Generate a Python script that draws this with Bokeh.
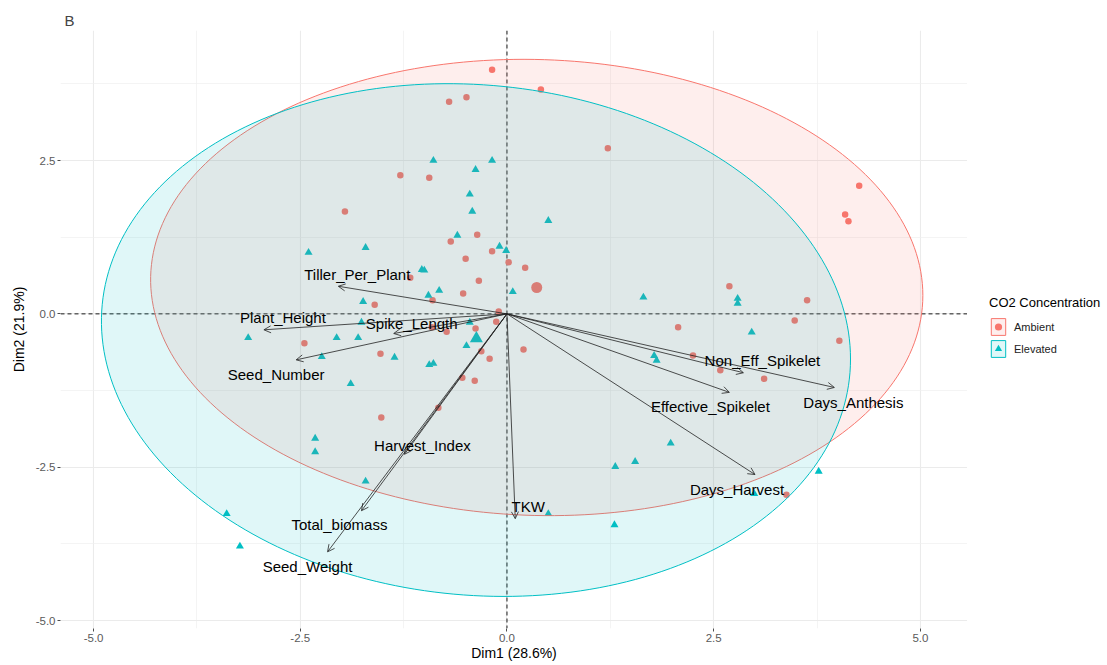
import numpy as np
from bokeh.plotting import figure
from bokeh.layouts import row
from bokeh.models import (ColumnDataSource, Span, Arrow, OpenHead, FixedTicker,
                          PrintfTickFormatter, Legend, LegendItem, Range1d)
from bokeh.core.properties import value
from bokeh.embed import file_html
from bokeh.resources import INLINE

# ---------------- data ----------------
groups = ["Ambient", "Elevated"]

amb_x = [-0.18, 0.41, -0.70, -0.49, 1.22, -1.29, -0.94, -1.96, 4.26, 4.09, 4.13,
         -0.36, -0.68, -0.18, -0.50, 0.02, 0.22, -1.17, -0.34, 2.69, -0.53, -0.90,
         -1.60, 3.63, -0.10, 3.48, -0.13, -0.38, -0.73, -0.91, 2.07, 4.02, -2.45,
         0.20, -1.53, -0.31, -0.21, 2.25, 2.58, 3.11, -0.54, -0.39, -0.83, -1.52, 3.38]
amb_y = [3.98, 3.66, 3.46, 3.53, 2.70, 2.26, 2.22, 1.67, 2.09, 1.62, 1.51,
         1.29, 1.18, 1.02, 0.90, 0.84, 0.75, 0.59, 0.54, 0.45, 0.33, 0.22,
         0.15, 0.22, 0.04, -0.11, -0.13, -0.24, -0.29, -0.22, -0.22, -0.44, -0.48,
         -0.58, -0.65, -0.61, -0.73, -0.68, -0.92, -1.06, -1.04, -1.09, -1.53, -1.69, -2.95]

elev_x = [-0.89, -0.18, -0.38, -0.45, -0.42, 0.50, -0.60, -0.09, -0.01, -1.03, -1.00,
          -0.82, -0.95, 0.07, 1.65, 2.79, 2.79, -0.45, -2.40, -1.71, -1.74, -1.76,
          -3.13, -2.06, -1.80, -2.24, -1.36, -1.89, -0.94, -0.89, -0.49, -2.32, -2.32,
          -1.71, -3.39, -3.23, 1.78, 1.81, 1.98, 1.31, 1.55, 0.50, 1.30, 2.96, 3.77, 2.99]
elev_y = [2.50, 2.50, 2.35, 1.95, 1.67, 1.52, 1.28, 1.10, 1.03, 0.72, 0.71,
          0.38, 0.30, 0.36, 0.27, 0.25, 0.17, -0.14, 1.00, 1.08, 0.20, -0.14,
          -0.39, -0.39, -0.39, -0.70, -0.71, -1.14, -0.83, -0.81, -0.52, -2.03, -2.25,
          -2.73, -3.26, -3.79, -0.68, -0.76, -2.11, -2.49, -2.41, -3.26, -3.44, -0.30, -2.57, -2.93]

# group centroids
mean_x = [0.36, -0.37]
mean_y = [0.43, -0.40]

# 95% ellipses: centre, half extent along x / y, covariance term
ell_cx = [0.36, -0.375]
ell_cy = [0.43, -0.427]
ell_sx = [4.67, 4.53]
ell_sy = [3.72, 4.18]
ell_cov = [-0.60, -1.40]

var_names = ["Tiller_Per_Plant", "Plant_Height", "Spike_Length", "Seed_Number",
             "Harvest_Index", "Total_biomass", "Seed_Weight", "TKW",
             "Non_Eff_Spikelet", "Days_Anthesis", "Effective_Spikelet", "Days_Harvest"]
var_x = [-2.04, -2.94, -1.37, -2.55, -1.24, -1.76, -2.17, 0.10, 2.86, 3.96, 2.69, 3.00]
var_y = [0.45, -0.26, -0.32, -0.75, -2.29, -3.21, -3.88, -3.34, -0.96, -1.20, -1.28, -2.62]

x_ticks = [-5.0, -2.5, 0.0, 2.5, 5.0]
y_ticks = [-5.0, -2.5, 0.0, 2.5]
x_minor = [-3.75, -1.25, 1.25, 3.75]
y_minor = [-3.75, -1.25, 1.25, 3.75]
x_label = "Dim1 (28.6%)"
y_label = "Dim2 (21.9%)"
legend_title = "CO2 Concentration"
panel_tag = "B"

# ---------------- style ----------------
colors = ["#F8766D", "#00BFC4"]
FONT = "Liberation Sans"
# label offsets from arrow tips, screen px
lab_dx = [19, 19, 18, -20, 18, -22, -20, 13, 19, 19, -19, -18]
lab_dy = [-12, -12, -10, 15, -9, 14, 15, -12, -12, 15, 14, 15]

p = figure(width=967, height=663, output_backend="svg", toolbar_location=None,
           x_range=Range1d(-5.40, 5.57), y_range=Range1d(-5.13, 4.62),
           min_border_left=60, min_border_right=0, min_border_top=30,
           min_border_bottom=35)
p.outline_line_color = None
p.background_fill_color = "white"
p.border_fill_color = "white"

p.title.text = panel_tag
p.title.text_font = FONT
p.title.text_font_size = "15px"
p.title.text_font_style = "normal"
p.title.standoff = 0
p.title.vertical_align = "top"
p.title.offset = 4

p.xaxis.ticker = FixedTicker(ticks=x_ticks, minor_ticks=x_minor)
p.yaxis.ticker = FixedTicker(ticks=y_ticks, minor_ticks=y_minor)
for ax in (p.xaxis, p.yaxis):
    ax.formatter = PrintfTickFormatter(format="%.1f")
    ax.axis_line_color = None
    ax.major_tick_line_color = "#4D4D4D"
    ax.major_tick_out = 3
    ax.major_tick_in = 0
    ax.minor_tick_line_color = None
    ax.major_label_text_font = FONT
    ax.major_label_text_font_size = "11.5px"
    ax.major_label_text_color = "#5A5A5A"
    ax.major_label_standoff = 1
    ax.axis_label_text_font = FONT
    ax.axis_label_text_font_size = "14px"
    ax.axis_label_text_font_style = "normal"
    ax.axis_label_text_color = "black"
    ax.axis_label_standoff = 0
p.yaxis.axis_label_standoff = 6
p.xaxis.axis_label = x_label
p.yaxis.axis_label = y_label

for g in (p.xgrid, p.ygrid):
    g.grid_line_color = "#EBEBEB"
    g.grid_line_width = 1.1
    g.minor_grid_line_color = "#EFEFEF"
    g.minor_grid_line_width = 0.7

p.add_layout(Span(location=0, dimension="height", line_color="black",
                  line_dash="4 3", line_width=0.9, level="underlay"))
p.add_layout(Span(location=0, dimension="width", line_color="black",
                  line_dash="4 3", line_width=0.9, level="underlay"))


def ellipse_xy(i):
    t = np.linspace(0, 2 * np.pi, 240)
    b = ell_cov[i] / ell_sx[i]
    c = np.sqrt(ell_sy[i] ** 2 - b ** 2)
    ex = ell_cx[i] + ell_sx[i] * np.cos(t)
    ey = ell_cy[i] + b * np.cos(t) + c * np.sin(t)
    return ex, ey


def draw_groups(fig, with_means):
    a = fig.scatter(amb_x, amb_y, marker="circle", size=6.5, color=colors[0],
                    line_color=None)
    e = fig.scatter(elev_x, elev_y, marker="triangle", size=8, color=colors[1],
                    line_color=None)
    if with_means:
        fig.scatter(mean_x[:1], mean_y[:1], marker="circle", size=11,
                    color=colors[0], line_color=None)
        fig.scatter(mean_x[1:], mean_y[1:], marker="triangle", size=13,
                    color=colors[1], line_color=None)
    pts = []
    for i in range(2):
        ex, ey = ellipse_xy(i)
        pts.append(fig.patch(ex, ey, fill_color=colors[i], fill_alpha=0.12,
                             line_color=colors[i], line_width=1))
    return a, e, pts


# points first, ellipses over them (as in the original)
draw_groups(p, True)

# variable arrows
n = len(var_names)
vsrc = ColumnDataSource(dict(x0=np.zeros(n), y0=np.zeros(n), x1=var_x, y1=var_y,
                             name=var_names, dx=lab_dx, dy=lab_dy))
p.add_layout(Arrow(end=OpenHead(size=7, line_width=0.8, line_color="#222222"),
                   x_start="x0", y_start="y0", x_end="x1", y_end="y1", source=vsrc,
                   line_width=0.8, line_color="#222222"))
p.text(x="x1", y="y1", text="name", source=vsrc, x_offset="dx", y_offset="dy",
       text_align="center", text_baseline="middle", text_font=value(FONT),
       text_font_size="15px", text_color="black", level="overlay")

# ---------------- legend panel ----------------
lg = figure(width=138, height=663, output_backend="svg", toolbar_location=None,
            x_range=Range1d(100, 101), y_range=Range1d(100, 101),
            x_axis_location=None, y_axis_location=None,
            min_border_left=0, min_border_right=0, min_border_top=0, min_border_bottom=0)
lg.outline_line_color = None
lg.grid.visible = False
lg.background_fill_color = "white"
lg.border_fill_color = "white"
la, le, lpatches = draw_groups(lg, False)

legend = Legend(items=[LegendItem(label=groups[0], renderers=[lpatches[0], la]),
                       LegendItem(label=groups[1], renderers=[lpatches[1], le])],
                location=(22, 269), title=legend_title,
                title_text_font=FONT, title_text_font_size="13px",
                title_text_font_style="normal", title_text_color="black",
                title_standoff=6,
                label_text_font=FONT, label_text_font_size="11px",
                label_text_color="#222222", label_standoff=7,
                glyph_width=18, glyph_height=21, spacing=1, padding=0, margin=0,
                background_fill_alpha=0, border_line_alpha=0)
lg.add_layout(legend)

layout = row(p, lg)
open("out.html", "w").write(file_html(layout, INLINE))
